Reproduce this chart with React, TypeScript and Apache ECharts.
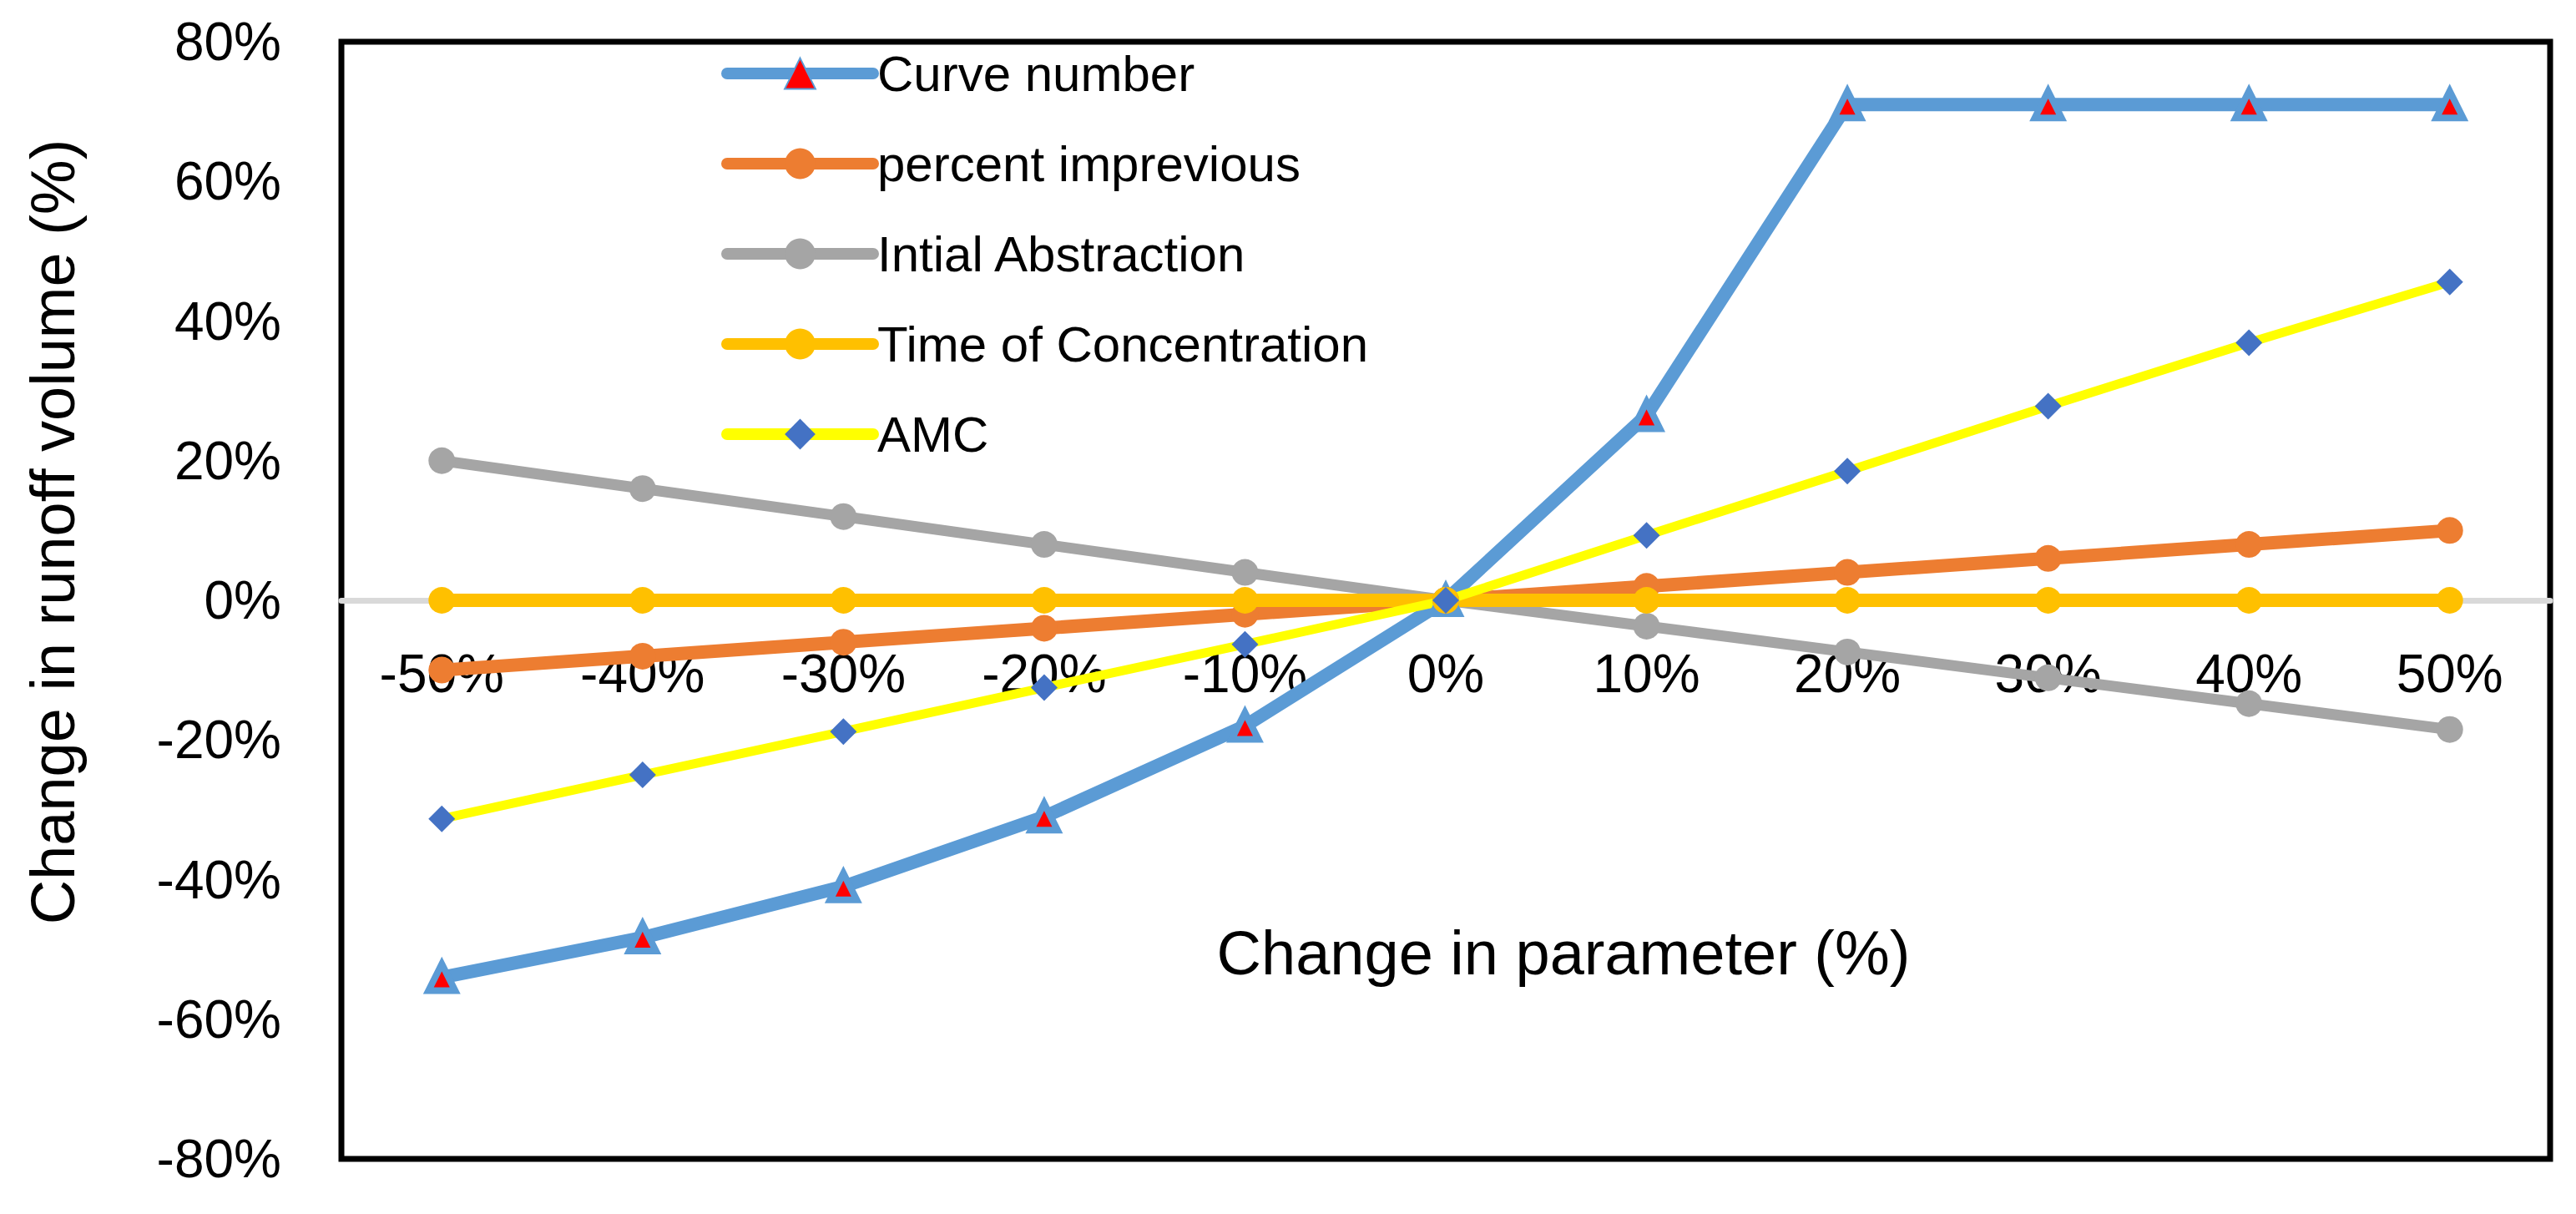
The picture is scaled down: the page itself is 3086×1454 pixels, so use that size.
import React, { useEffect, useRef } from "react";
import * as echarts from "echarts";

const categories = ["-50%", "-40%", "-30%", "-20%", "-10%", "0%", "10%", "20%", "30%", "40%", "50%"];
const curveNumber = [-54, -48.3, -41, -31, -18, 0, 26.5, 71, 71, 71, 71];
const percentImpervious = [-10, -8, -6, -4, -2, 0, 2, 4, 6, 8, 10];
const initialAbstraction = [20, 16, 12, 8, 4, 0, -3.7, -7.4, -11.1, -14.8, -18.5];
const timeOfConcentration = [0, 0, 0, 0, 0, 0, 0, 0, 0, 0, 0];
const amc = [-31.3, -25, -18.8, -12.5, -6.3, 0, 9.3, 18.5, 27.8, 36.9, 45.6];
const yTicks = { min: -80, max: 80, interval: 20 };

const FONT = "'Liberation Sans', Arial, sans-serif";

export default function App() {
  const ref = useRef<HTMLDivElement>(null);
  useEffect(() => {
    if (!ref.current) return;
    const chart = echarts.init(ref.current, null, { renderer: "svg" });
    chart.setOption({
      animation: false,
      backgroundColor: "#ffffff",
      textStyle: { fontFamily: FONT, color: "#000" },
      grid: {
        left: 409,
        right: 31,
        top: 50,
        bottom: 66,
        show: true,
        borderColor: "#000",
        borderWidth: 7,
        containLabel: false,
        outerBoundsMode: "none",
      },
      legend: {
        orient: "vertical",
        left: 859,
        top: 53,
        itemWidth: 175,
        itemHeight: 46,
        itemGap: 48,
        lineStyle: { width: 14, cap: "round" },
        textStyle: { fontFamily: FONT, fontSize: 60, color: "#000", lineHeight: 60 },
        data: ["Curve number", "percent imprevious", "Intial Abstraction", "Time of Concentration", "AMC"],
      },
      xAxis: {
        type: "category",
        data: categories,
        boundaryGap: true,
        position: "bottom",
        offset: -669,
        axisLine: { onZero: false, lineStyle: { color: "#D9D9D9", width: 7 } },
        axisTick: { show: false },
        axisLabel: { interval: 0, fontSize: 64, color: "#000", fontFamily: FONT, margin: 56 },
        splitLine: { show: false },
        name: "Change in parameter (%)",
        nameLocation: "middle",
        nameGap: 385,
        nameTextStyle: { fontSize: 74, color: "#000", fontFamily: FONT, padding: [0, 0, 0, 282] },
      },
      yAxis: {
        type: "value",
        min: yTicks.min,
        max: yTicks.max,
        interval: yTicks.interval,
        axisLine: { show: false },
        axisTick: { show: false },
        splitLine: { show: false },
        axisLabel: { fontSize: 64, color: "#000", fontFamily: FONT, margin: 72, formatter: "{value}%" },
        name: "Change in runoff volume (%)",
        nameLocation: "middle",
        nameRotate: 90,
        nameGap: 309,
        nameTextStyle: { fontSize: 74, color: "#000", fontFamily: FONT, padding: [0, 0, 0, 164] },
      },
      series: [
        {
          name: "Curve number",
          type: "line",
          data: curveNumber,
          symbol: "triangle",
          symbolSize: 32,
          showAllSymbol: true,
          lineStyle: { color: "#5B9BD5", width: 16 },
          itemStyle: { color: "#FF0000", borderColor: "#5B9BD5", borderWidth: 8 },
        },
        {
          name: "percent imprevious",
          type: "line",
          data: percentImpervious,
          symbol: "circle",
          symbolSize: 32,
          showAllSymbol: true,
          lineStyle: { color: "#ED7D31", width: 16 },
          itemStyle: { color: "#ED7D31" },
        },
        {
          name: "Intial Abstraction",
          type: "line",
          data: initialAbstraction,
          symbol: "circle",
          symbolSize: 32,
          showAllSymbol: true,
          lineStyle: { color: "#A5A5A5", width: 13 },
          itemStyle: { color: "#A5A5A5" },
        },
        {
          name: "Time of Concentration",
          type: "line",
          data: timeOfConcentration,
          symbol: "circle",
          symbolSize: 32,
          showAllSymbol: true,
          lineStyle: { color: "#FFC000", width: 16 },
          itemStyle: { color: "#FFC000" },
        },
        {
          name: "AMC",
          type: "line",
          data: amc,
          symbol: "diamond",
          symbolSize: 32,
          showAllSymbol: true,
          lineStyle: { color: "#FFFF00", width: 11 },
          itemStyle: { color: "#4472C4" },
        },
      ],
    });
    return () => chart.dispose();
  }, []);
  return (
    <div
      ref={ref}
      style={{ position: "fixed", left: 0, top: 0, width: "3086px", height: "1454px", background: "#fff" }}
    />
  );
}
